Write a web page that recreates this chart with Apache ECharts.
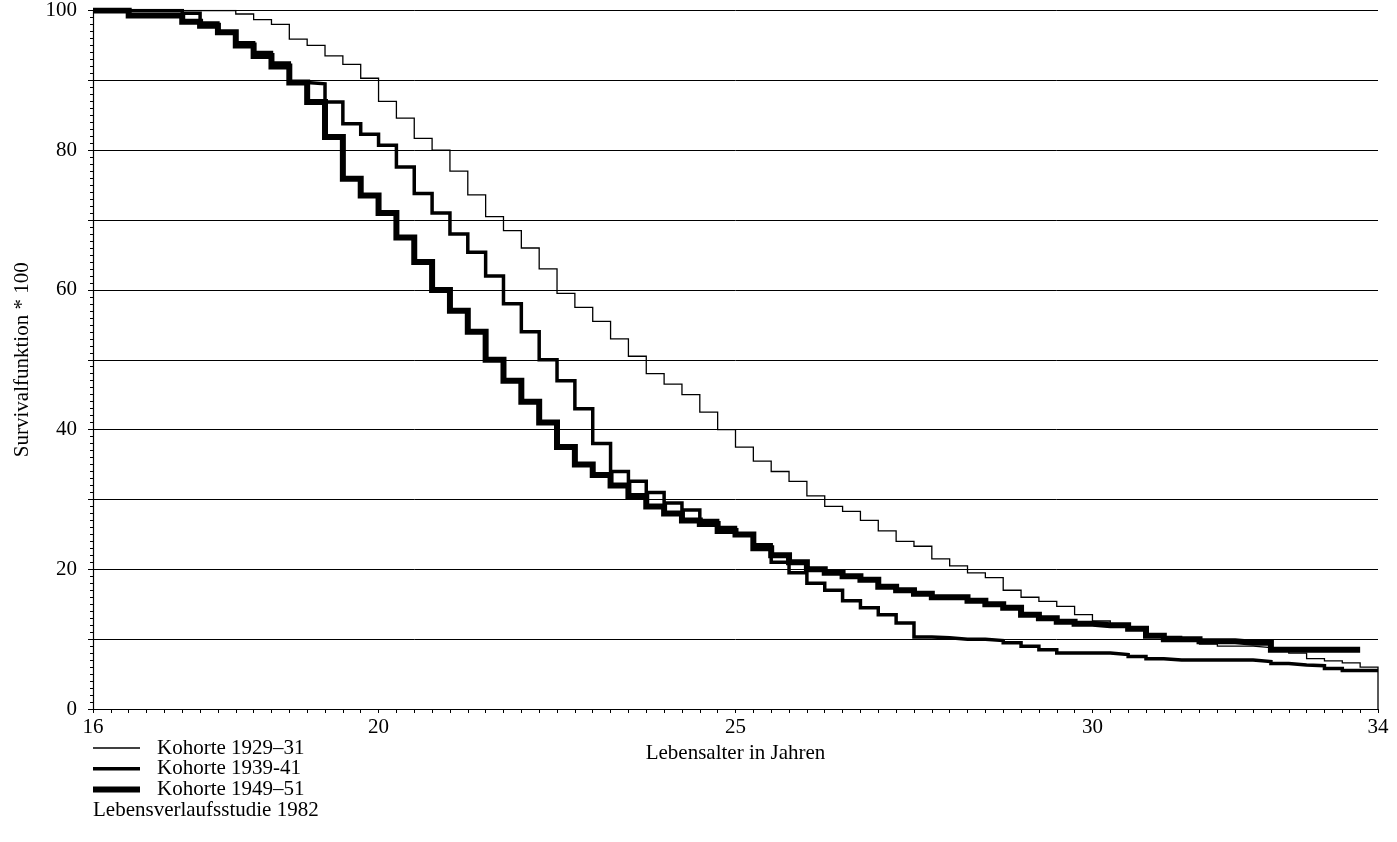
<!DOCTYPE html>
<html>
<head>
<meta charset="utf-8">
<script src="https://cdn.jsdelivr.net/npm/echarts@6/dist/echarts.min.js"></script>
<style>
  html, body { margin: 0; padding: 0; background: #fff; }
  #chart { width: 1397px; height: 842px; }
</style>
</head>
<body>
<div id="chart"></div>
<script>
// Age grid in years (quarter-year steps)
const ages = [
  16, 16.25, 16.5, 16.75, 17, 17.25, 17.5, 17.75,
  18, 18.25, 18.5, 18.75, 19, 19.25, 19.5, 19.75,
  20, 20.25, 20.5, 20.75, 21, 21.25, 21.5, 21.75,
  22, 22.25, 22.5, 22.75, 23, 23.25, 23.5, 23.75,
  24, 24.25, 24.5, 24.75, 25, 25.25, 25.5, 25.75,
  26, 26.25, 26.5, 26.75, 27, 27.25, 27.5, 27.75,
  28, 28.25, 28.5, 28.75, 29, 29.25, 29.5, 29.75,
  30, 30.25, 30.5, 30.75, 31, 31.25, 31.5, 31.75,
  32, 32.25, 32.5, 32.75, 33, 33.25, 33.5, 33.75, 34
];

// Survival function * 100 from each age onward
const kohorte1929 = [
  100, 100, 100, 100, 100, 100, 100, 100,
  99.5, 98.7, 98.0, 95.9, 95.0, 93.5, 92.3, 90.3,
  87.0, 84.6, 81.7, 80.0, 77.0, 73.6, 70.5, 68.5,
  66.0, 63.0, 59.5, 57.5, 55.5, 53.0, 50.5, 48.0,
  46.5, 45.0, 42.5, 40.0, 37.5, 35.5, 34.0, 32.6,
  30.5, 29.0, 28.3, 27.0, 25.5, 24.0, 23.3, 21.5,
  20.5, 19.5, 18.8, 17.0, 16.0, 15.4, 14.7, 13.5,
  12.6, 12.0, 11.5, 10.8, 10.4, 10.0, 9.3, 9.0,
  9.0, 8.8, 8.3, 8.0, 7.2, 6.9, 6.6, 6.0, 0
];
const kohorte1939 = [
  100, 100, 100, 100, 100, 99.6, 98.2, 96.9,
  95.4, 94.0, 92.5, 89.7, 89.5, 86.9, 83.8, 82.3,
  80.7, 77.6, 73.8, 71.0, 68.0, 65.4, 62.0, 58.0,
  54.0, 50.0, 47.0, 43.0, 38.0, 34.0, 32.6, 31.0,
  29.5, 28.5, 27.0, 26.0, 25.0, 23.5, 21.0, 19.5,
  18.0, 17.0, 15.5, 14.5, 13.5, 12.3, 10.3, 10.2,
  10.0, 10.0, 9.8, 9.5, 9.0, 8.5, 8.0, 8.0,
  8.0, 7.8, 7.5, 7.2, 7.0, 7.0, 7.0, 7.0,
  7.0, 6.8, 6.5, 6.3, 6.2, 5.8, 5.5, 5.5, 5.5
];
const kohorte1949 = [
  100, 100, 99.3, 99.3, 99.3, 98.4, 97.8, 96.9,
  95.0, 93.5, 92.0, 89.7, 86.9, 81.9, 75.9, 73.5,
  71.0, 67.5, 64.0, 60.0, 57.0, 54.0, 50.0, 47.0,
  44.0, 41.0, 37.5, 35.0, 33.5, 32.0, 30.5, 29.0,
  28.0, 27.0, 26.5, 25.5, 25.0, 23.0, 22.0, 21.0,
  20.0, 19.5, 19.0, 18.5, 17.5, 17.0, 16.5, 16.0,
  16.0, 15.5, 15.0, 14.5, 13.5, 13.0, 12.5, 12.2,
  12.0, 12.0, 11.5, 10.5, 10.0, 10.0, 9.7, 9.7,
  9.5, 9.5, 8.5, 8.5, 8.5, 8.5, 8.5, 8.5, null
];

const seriesNames = ['Kohorte 1929\u201331', 'Kohorte 1939-41', 'Kohorte 1949\u201351'];
const seriesValues = [kohorte1929, kohorte1939, kohorte1949];
const lineWidths = [1.3, 3.5, 6];

const xLabelValues = [16, 20, 25, 30, 34];
const footnote = 'Lebensverlaufsstudie 1982';

const FONT = "'Liberation Serif', 'DejaVu Serif', serif";
const FONT_SIZE = 21;

function pairs(values) {
  const out = [];
  values.forEach((v, i) => { if (v !== null) out.push([ages[i], v]); });
  return out;
}

// Key below the plot: line sample + cohort name per row, then the source note
const keyLeft = 93, keySampleWidth = 47, keyTextLeft = 157;
const keyRowTop = 748, keyRowStep = 20.7;
const keyGraphics = [];
seriesNames.forEach((name, i) => {
  const yc = keyRowTop + i * keyRowStep;
  keyGraphics.push({
    type: 'line',
    shape: { x1: keyLeft, y1: yc, x2: keyLeft + keySampleWidth, y2: yc },
    style: { stroke: '#000', lineWidth: lineWidths[i] }
  });
  keyGraphics.push({
    type: 'text',
    x: keyTextLeft, y: yc,
    style: { text: name, fill: '#000', font: FONT_SIZE + 'px ' + FONT, verticalAlign: 'middle' }
  });
});
keyGraphics.push({
  type: 'text',
  x: keyLeft, y: keyRowTop + 3 * keyRowStep,
  style: { text: footnote, fill: '#000', font: FONT_SIZE + 'px ' + FONT, verticalAlign: 'middle' }
});

const chart = echarts.init(document.getElementById('chart'), null, { renderer: 'canvas' });

chart.setOption({
  backgroundColor: '#ffffff',
  animation: false,
  grid: { left: 93, right: 19, top: 8, bottom: 133, containLabel: false },
  xAxis: {
    type: 'value',
    min: 16, max: 34, interval: 0.25,
    name: 'Lebensalter in Jahren',
    nameLocation: 'middle',
    nameGap: 30,
    nameTextStyle: { color: '#000', fontFamily: FONT, fontSize: FONT_SIZE },
    axisLine: { lineStyle: { color: '#000', width: 1.2 } },
    axisTick: { show: true, length: 4, lineStyle: { color: '#000', width: 1 } },
    axisLabel: {
      color: '#000', fontFamily: FONT, fontSize: FONT_SIZE, margin: 8,
      formatter: v => (xLabelValues.includes(v) ? String(v) : '')
    },
    splitLine: { show: false }
  },
  yAxis: {
    type: 'value',
    min: 0, max: 100, interval: 10,
    name: 'Survivalfunktion * 100',
    nameLocation: 'middle',
    nameGap: 60,
    nameRotate: 90,
    nameTextStyle: { color: '#000', fontFamily: FONT, fontSize: FONT_SIZE },
    axisLine: { show: true, lineStyle: { color: '#000', width: 1.2 } },
    axisTick: { show: true, length: 5, lineStyle: { color: '#000', width: 1 } },
    minorTick: { show: true, splitNumber: 10, length: 3, lineStyle: { color: '#000', width: 1 } },
    axisLabel: {
      color: '#000', fontFamily: FONT, fontSize: FONT_SIZE, margin: 16,
      formatter: v => (v % 20 === 0 ? String(v) : '')
    },
    splitLine: { show: true, lineStyle: { color: '#000', width: 1 } }
  },
  graphic: keyGraphics,
  series: seriesValues.map((vals, i) => ({
    name: seriesNames[i],
    type: 'line',
    step: 'end',
    showSymbol: false,
    symbol: 'none',
    data: pairs(vals),
    lineStyle: { color: '#000', width: lineWidths[i], join: 'miter' },
    itemStyle: { color: '#000' },
    z: 3 + i
  }))
});
</script>
</body>
</html>
